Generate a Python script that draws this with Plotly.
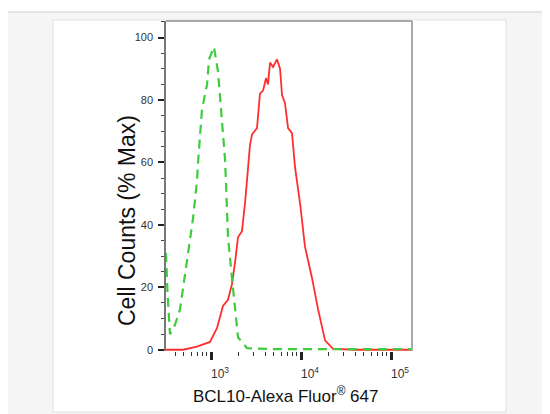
import plotly.graph_objects as go

# ---------------- data ----------------
# Isotype control (green dashed): fluorescence intensity vs % max
green_x = [316, 329, 350, 398, 453, 555, 631, 698, 718, 794, 904, 951, 1079,
           1197, 1324, 1432, 1469, 1545, 1710, 1849, 1995, 2512, 5000, 20000,
           100000, 171000]
green_y = [31, 18, 5, 8, 13, 30, 42, 54, 60, 77, 85, 93, 97,
           89, 74, 61, 53, 36, 23, 13, 4, 0.5, 0.2, 0.2,
           0.2, 0.2]

# BCL10 stained sample (red solid)
red_x = [316, 489, 698, 975, 1167, 1358, 1545, 1710, 1849, 1995, 2208, 2388,
         2576, 2710, 2858, 3243, 3499, 3784, 4083, 4295, 4529, 4887, 5408,
         5848, 6152, 6637, 7178, 7943, 8577, 9036, 9750, 11066, 13243, 15453,
         18493, 22699, 40000, 100000, 171000]
red_y = [0, 0, 1, 2.5, 7, 14, 16, 21, 28, 36, 38, 47,
         58, 65.6, 69, 71, 82, 83, 87, 85, 92, 90.6, 93,
         90, 81.6, 79, 71, 69.4, 58.5, 54, 47, 33, 23, 13,
         3, 0.3, 0, 0, 0]

x_tick_vals = [1000, 10000, 100000]
x_tick_text = ["10<sup>3</sup>", "10<sup>4</sup>", "10<sup>5</sup>"]
x_minor_vals = [400, 500, 600, 700, 800, 900,
                2000, 3000, 4000, 5000, 6000, 7000, 8000, 9000,
                20000, 30000, 40000, 50000, 60000, 70000, 80000, 90000]
y_tick_vals = [0, 20, 40, 60, 80, 100]
y_tick_text = ["0", "20", "40", "60", "80", "100"]

x_title = "BCL10-Alexa Fluor<sup>®</sup> 647"
y_title = "Cell Counts (% Max)"

# ---------------- layout geometry ----------------
OFF = 8                      # default page body margin
W, H = 542, 406
ML, MR, MT, MB = 158, 138, 13, 63
PW = W - ML - MR
PH = H - MT - MB


def px_x(x):
    """page pixel -> paper fraction"""
    return (x - OFF - ML) / PW


def px_y(y):
    return (H - MB - (y - OFF)) / PH


SANS = "Liberation Sans, Arial, sans-serif"

fig = go.Figure()

fig.add_trace(go.Scatter(
    x=red_x, y=red_y, mode="lines",
    line=dict(color="#ff2e2e", width=1.8),
    showlegend=False, hoverinfo="skip",
))
fig.add_trace(go.Scatter(
    x=green_x, y=green_y, mode="lines",
    line=dict(color="#3ccc3c", width=2.2, dash="9px,6px"),
    showlegend=False, hoverinfo="skip",
))

shapes = [
    # outer grey panel
    dict(type="rect", xref="paper", yref="paper", layer="below",
         x0=px_x(7), x1=px_x(W + 30), y0=px_y(H + 30), y1=px_y(12),
         fillcolor="#f5f5f5", line=dict(color="#dcdcdc", width=1.5)),
    # inner white card
    dict(type="rect", xref="paper", yref="paper", layer="below",
         x0=px_x(53), x1=px_x(506), y0=px_y(412), y1=px_y(20),
         fillcolor="#ffffff", line=dict(color="#e2e2e2", width=1)),
    # plot frame top and right
    dict(type="line", xref="paper", yref="paper", layer="above",
         x0=0, x1=1, y0=1, y1=1, line=dict(color="#a8a8a8", width=2)),
    dict(type="line", xref="paper", yref="paper", layer="above",
         x0=1, x1=1, y0=0, y1=1, line=dict(color="#a8a8a8", width=2)),
]

annotations = [
    dict(text=y_title, xref="paper", yref="paper", x=px_x(127), y=px_y(221),
         xanchor="center", yanchor="middle", textangle=-90, showarrow=False,
         font=dict(family=SANS, size=23, color="#111")),
    dict(text=x_title, xref="paper", yref="paper", x=px_x(285), y=px_y(395),
         xanchor="center", yanchor="middle", showarrow=False,
         font=dict(family=SANS, size=17, color="#111")),
]

fig.update_layout(
    width=W, height=H,
    margin=dict(l=ML, r=MR, t=MT, b=MB, pad=0),
    paper_bgcolor="#ffffff",
    plot_bgcolor="rgba(0,0,0,0)",
    shapes=shapes,
    annotations=annotations,
    showlegend=False,
    xaxis=dict(
        type="log", range=[2.5, 5.233],
        tickmode="array", tickvals=x_tick_vals, ticktext=x_tick_text,
        ticks="outside", ticklen=8, tickwidth=2.5, tickcolor="#222",
        ticklabelshift=9, ticklabelstandoff=4,
        minor=dict(tickmode="array", tickvals=x_minor_vals, ticks="outside",
                   ticklen=4, tickwidth=1.2, tickcolor="#333", showgrid=False),
        tickfont=dict(family=SANS, size=12, color="#333"),
        showgrid=False, zeroline=False, showline=False,
    ),
    yaxis=dict(
        range=[-0.4, 105.3],
        tickmode="array", tickvals=y_tick_vals, ticktext=y_tick_text,
        ticks="outside", ticklen=6, tickwidth=2, tickcolor="#222",
        ticklabelstandoff=3,
        minor=dict(dtick=5, tick0=0, ticks="outside", ticklen=3,
                   tickwidth=1.2, tickcolor="#444", showgrid=False),
        tickfont=dict(family=SANS, size=11, color="#333"),
        showgrid=False, zeroline=False,
        showline=True, linecolor="#777", linewidth=1.5,
    ),
)

fig.write_html("out.html")
